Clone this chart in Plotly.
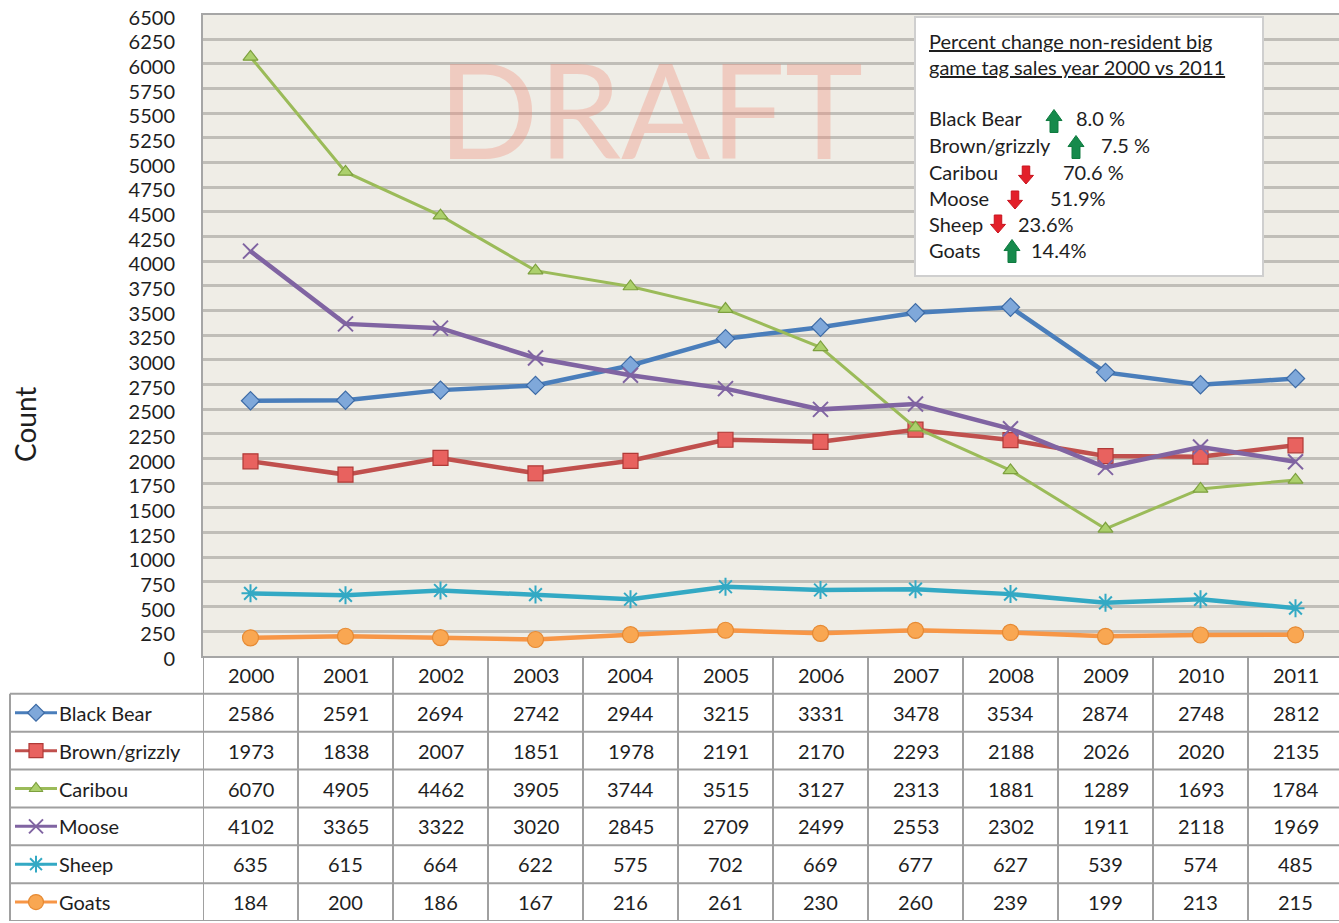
import plotly.graph_objects as go

W, H = 1339, 923
OFF = 0  # body margin removed via post_script
def px(x): return (x - OFF) / W
def py(y): return 1 - (y - OFF) / H

years = ['2000', '2001', '2002', '2003', '2004', '2005', '2006', '2007', '2008', '2009', '2010', '2011']
series_names = ['Black Bear', 'Brown/grizzly', 'Caribou', 'Moose', 'Sheep', 'Goats']
black_bear = [2586, 2591, 2694, 2742, 2944, 3215, 3331, 3478, 3534, 2874, 2748, 2812]
brown_grizzly = [1973, 1838, 2007, 1851, 1978, 2191, 2170, 2293, 2188, 2026, 2020, 2135]
caribou = [6070, 4905, 4462, 3905, 3744, 3515, 3127, 2313, 1881, 1289, 1693, 1784]
moose = [4102, 3365, 3322, 3020, 2845, 2709, 2499, 2553, 2302, 1911, 2118, 1969]
sheep = [635, 615, 664, 622, 575, 702, 669, 677, 627, 539, 574, 485]
goats = [184, 200, 186, 167, 216, 261, 230, 260, 239, 199, 213, 215]
values = [black_bear, brown_grizzly, caribou, moose, sheep, goats]

pct_labels = ['Black Bear', 'Brown/grizzly', 'Caribou', 'Moose', 'Sheep', 'Goats']
pct_dirs = ['up', 'up', 'down', 'down', 'down', 'up']
pct_text = ['8.0 %', '7.5 %', '70.6 %', '51.9%', '23.6%', '14.4%']

FONT = 'Lato'
TXT = '#1e1e1e'
XOFF = 2  # annotation left padding compensation (px)

styles = [
    dict(line='#4A7EBB', w=4.5, symbol='diamond', size=14, fill='#7FA8DA', mline='#3D6BA6', mw=1.2),
    dict(line='#C0504D', w=4.5, symbol='square', size=15, fill='#E8625F', mline='#B03A37', mw=1.2),
    dict(line='#9BBB59', w=3, symbol='triangle-up', size=13, fill='#ACD06C', mline='#7DA03E', mw=1.2),
    dict(line='#8064A2', w=4.5, symbol='x-thin-open', size=15, fill='#8064A2', mline='#7A5C9E', mw=2),
    dict(line='#33A9C4', w=4.5, symbol='asterisk-open', size=15, fill='#33A9C4', mline='#1E9CBA', mw=2),
    dict(line='#F79646', w=4.5, symbol='circle', size=16, fill='#F9A752', mline='#E68A33', mw=1.2),
]

fig = go.Figure()

for name, vals, st in zip(series_names, values, styles):
    fig.add_trace(go.Scatter(
        x=years, y=vals, name=name, mode='lines+markers',
        line=dict(color=st['line'], width=st['w']),
        marker=dict(symbol=st['symbol'], size=st['size'], color=st['fill'],
                    line=dict(color=st['mline'], width=st['mw'])),
        xaxis='x', yaxis='y', showlegend=False, hoverinfo='x+y+name'))

# legend glyphs in the data table (x2 values are screen pixels)
for i, (name, st) in enumerate(zip(series_names, styles)):
    c = 5.5 - i
    fig.add_trace(go.Scatter(x=[15, 57], y=[c, c], mode='lines',
                             line=dict(color=st['line'], width=3),
                             xaxis='x2', yaxis='y2', showlegend=False, hoverinfo='skip'))
    fig.add_trace(go.Scatter(x=[36], y=[c], mode='markers',
                             marker=dict(symbol=st['symbol'], size=st['size'] - 1, color=st['fill'],
                                         line=dict(color=st['mline'], width=st['mw'])),
                             xaxis='x2', yaxis='y2', showlegend=False, hoverinfo='skip'))

annotations = []
shapes = []

# beige plot area background (below gridlines)
shapes.append(dict(type='rect', xref='x domain', yref='y domain', x0=0, x1=1, y0=0, y1=1,
                   fillcolor='#EFEDE6', line=dict(width=0), layer='below'))

# header row and table values (x given as category index)
for j, yr in enumerate(years):
    annotations.append(dict(x=j, y=6.5, xref='x', yref='y2', text=yr, showarrow=False,
                            xanchor='center', yanchor='middle',
                            font=dict(family=FONT, size=20, color=TXT)))
for i, vals in enumerate(values):
    for j, v in enumerate(vals):
        annotations.append(dict(x=j, y=5.5 - i, xref='x', yref='y2', text=str(v),
                                xanchor='center', yanchor='middle',
                                showarrow=False, font=dict(family=FONT, size=20, color=TXT)))
    annotations.append(dict(x=59 - XOFF, y=5.5 - i, xref='x2', yref='y2', text=series_names[i],
                            xanchor='left', yanchor='middle', showarrow=False,
                            font=dict(family=FONT, size=20, color=TXT)))

TBL = '#A0A0A0'
for k in range(0, 7):
    shapes.append(dict(type='line', xref='paper', yref='y2', x0=px(10), x1=1, y0=k, y1=k,
                       line=dict(color=TBL, width=2)))
for j in range(len(years)):
    shapes.append(dict(type='line', xref='x', yref='y2', x0=j - 0.5, x1=j - 0.5, y0=0, y1=7,
                       line=dict(color=TBL, width=2)))
shapes.append(dict(type='line', xref='paper', yref='y2', x0=px(10), x1=px(10), y0=0, y1=6,
                   line=dict(color=TBL, width=2)))

# info box
shapes.append(dict(type='rect', xref='paper', yref='paper', x0=px(915), x1=px(1263),
                   y0=py(276), y1=py(17), fillcolor='white', line=dict(color='#CFCFCF', width=2),
                   layer='above'))
annotations.append(dict(x=px(929 - XOFF), y=py(54), xref='paper', yref='paper', xanchor='left',
                        yanchor='middle', align='left', showarrow=False,
                        text="<span style='text-decoration:underline'>Percent change non-resident big</span><br>"
                             "<span style='text-decoration:underline'>game tag sales year 2000 vs 2011</span>",
                        font=dict(family=FONT, size=20, color=TXT)))

def arrow_path(cx, cy, up, h, w):
    sw = w * 0.5
    hh = h * 0.48
    if up:
        pts = [(cx, cy - h / 2), (cx + w / 2, cy - h / 2 + hh), (cx + sw / 2, cy - h / 2 + hh),
               (cx + sw / 2, cy + h / 2), (cx - sw / 2, cy + h / 2), (cx - sw / 2, cy - h / 2 + hh),
               (cx - w / 2, cy - h / 2 + hh)]
    else:
        pts = [(cx, cy + h / 2), (cx + w / 2, cy + h / 2 - hh), (cx + sw / 2, cy + h / 2 - hh),
               (cx + sw / 2, cy - h / 2), (cx - sw / 2, cy - h / 2), (cx - sw / 2, cy + h / 2 - hh),
               (cx - w / 2, cy + h / 2 - hh)]
    return 'M ' + ' L '.join(f'{px(x):.5f},{py(y):.5f}' for x, y in pts) + ' Z'

row_y = [118, 145, 172, 198, 224, 250]
arrow_x = [1054, 1076, 1026, 1015, 998, 1012]
arrow_y = [121, 147, 175, 200, 224, 251]
pct_x = [1076, 1101, 1063, 1050, 1018, 1031]
for lab, d, pt, ry, ax, ay, pxx in zip(pct_labels, pct_dirs, pct_text, row_y, arrow_x, arrow_y, pct_x):
    annotations.append(dict(x=px(929 - XOFF), y=py(ry), xref='paper', yref='paper', xanchor='left',
                            yanchor='middle', showarrow=False, text=lab,
                            font=dict(family=FONT, size=20, color=TXT)))
    up = d == 'up'
    shapes.append(dict(type='path', xref='paper', yref='paper',
                       path=arrow_path(ax, ay, up, 23 if up else 18, 16 if up else 15),
                       fillcolor='#168A4C' if up else '#E3202A',
                       line=dict(color='#0F7A3F' if up else '#C8141E', width=1), layer='above'))
    annotations.append(dict(x=px(pxx - XOFF), y=py(ry), xref='paper', yref='paper', xanchor='left',
                            yanchor='middle', showarrow=False, text=pt,
                            font=dict(family=FONT, size=20, color=TXT)))

# watermark
annotations.append(dict(x=px(650), y=py(108), xref='paper', yref='paper', showarrow=False,
                        xanchor='center', yanchor='middle',
                        text='DRAFT', font=dict(family=FONT, size=132, color='rgba(240,140,120,0.35)')))
# y title
annotations.append(dict(x=px(25), y=py(425), xref='paper', yref='paper', showarrow=False,
                        xanchor='center', yanchor='middle',
                        text='Count', textangle=-90, font=dict(family=FONT, size=28, color=TXT)))

x_left = px(203)
x_right = 1.0
cat_w = 95.0 / W
fig.update_layout(
    width=W, height=H,
    margin=dict(l=0, r=0, t=0, b=0, autoexpand=False),
    paper_bgcolor='white',
    plot_bgcolor='white',
    showlegend=False,
    xaxis=dict(domain=[x_left, x_right], type='category', categoryorder='array', categoryarray=years,
               range=[-0.5, -0.5 + (x_right - x_left) / cat_w], showgrid=False,
               showticklabels=False, ticks='',
               showline=True, linecolor='#A6A6A6', linewidth=2, mirror=True, zeroline=False,
               anchor='y', automargin=False),
    yaxis=dict(domain=[py(656), py(14.5)], range=[0, 6500], dtick=250, tick0=0,
               showgrid=True, gridcolor='#C0BEB8', gridwidth=3, zeroline=False,
               showline=True, linecolor='#A6A6A6', linewidth=2, mirror=True,
               ticks='', ticklabelstandoff=22, ticklabelshift=3, automargin=False,
               ticklabeloverflow='allow',
               tickfont=dict(family=FONT, size=20, color=TXT), anchor='x'),
    xaxis2=dict(domain=[0, px(203)], range=[OFF, 203], visible=False, anchor='y2', automargin=False),
    yaxis2=dict(domain=[py(921), py(656)], range=[0, 7], visible=False, anchor='x2', automargin=False),
    annotations=annotations,
    shapes=shapes,
)

fig.write_html('out.html', config={'displayModeBar': False},
               post_script="document.body.style.margin='0px';")
